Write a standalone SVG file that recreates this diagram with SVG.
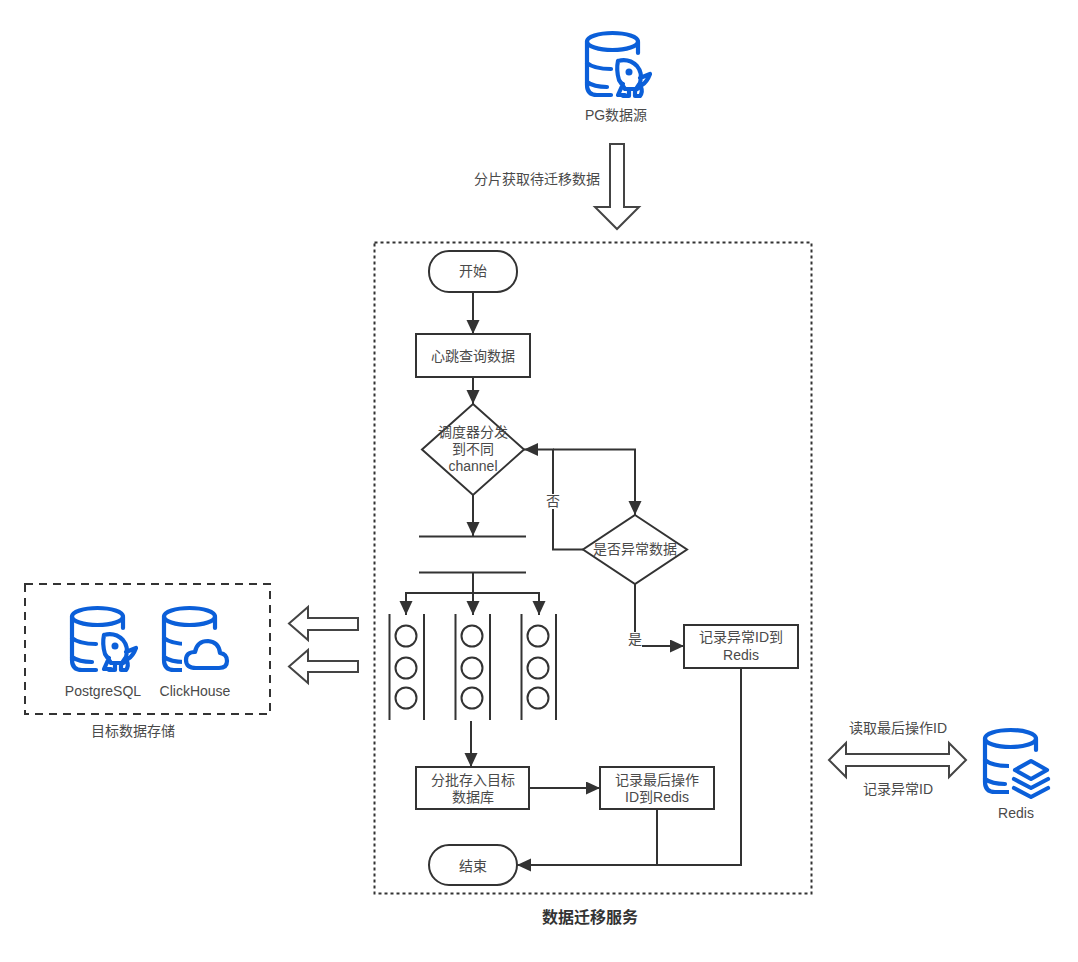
<svg xmlns="http://www.w3.org/2000/svg" width="1078" height="962" viewBox="0 0 1078 962">
<style>
text{font-family:"Liberation Sans","Noto Sans CJK SC",sans-serif;font-size:14px;fill:#4a4a4a;text-anchor:middle}
.s{fill:#fff;stroke:#333;stroke-width:2}
.l{fill:none;stroke:#333;stroke-width:2}
.t{fill:#fff;stroke:#444;stroke-width:2}
.i{fill:none;stroke:#0b5fd9;stroke-width:4.200;stroke-linecap:round;stroke-linejoin:round}
</style>
<defs>
<marker id="a" markerUnits="userSpaceOnUse" markerWidth="15" markerHeight="14" refX="14" refY="6.500" orient="auto"><path d="M0 0L14 6.500L0 13Z" fill="#333"/></marker>
<symbol id="db" overflow="visible">
<ellipse class="i" cx="27.500" cy="10.500" rx="25.500" ry="8.500"/>
<path class="i" d="M2 10.500V54Q2 64 12 64H26M53 10.500V22M2 32Q9 38 26 38M2 51Q9 56 22 56"/>
</symbol>
<symbol id="rocket" overflow="visible">
<path d="M-3 34 L22 36 L28 22 Q24 8 12 1 Q0 -1 -3 5 Q-7 13 -2 22 Z" fill="#fff"/>
<path class="i" d="M-1 3Q10 0 18 8Q24 15 21 25L17 31H6L0 22Q-3 12 -1 3M21 20L31 16Q28 24 23 27L18 31M4 26L-1 37H6M10 31V38H4M16 32V38H21Q24 34 22 29"/>
<circle cx="10" cy="14" r="3.500" fill="#0b5fd9"/>
</symbol>
<symbol id="cloud" overflow="visible">
<path d="M-4 -4H44V35H-4Z" fill="#fff"/>
<path class="i" d="M10 30Q0 30 0 22Q0 14 9 14Q11 3 22 3Q33 4 34 15Q41 16 41 23Q41 30 33 30Z"/>
</symbol>
<symbol id="stack" overflow="visible">
<path d="M-4 -3H40V41H-4Z" fill="#fff"/>
<path class="i" d="M18 2L34 11L18 20L2 11ZM1 20L18 29L35 20M1 29L18 38L35 29"/>
</symbol>
</defs>

<g id="pg-source">
<use href="#db" x="585" y="31"/><use href="#rocket" x="619" y="58"/>
<text x="616" y="120">PG数据源</text>
</g>

<g id="service-boundary">
<rect x="374.500" y="242.500" width="437" height="651" fill="none" stroke="#333" stroke-width="2" stroke-dasharray="3 3"/>
<text x="590" y="923" style="font-weight:700;font-size:16px;fill:#333">数据迁移服务</text>
</g>

<g id="target-storage">
<rect x="25" y="584" width="245" height="130" fill="none" stroke="#333" stroke-width="2" stroke-dasharray="8 6"/>
<use href="#db" x="70" y="606"/><use href="#rocket" x="105" y="632"/>
<use href="#db" x="162" y="606"/><use href="#cloud" x="186" y="638"/>
<text x="103" y="696">PostgreSQL</text>
<text x="195" y="696">ClickHouse</text>
<text x="133" y="736">目标数据存储</text>
</g>

<g id="redis">
<use href="#db" x="983" y="728"/><use href="#stack" x="1013" y="759"/>
<text x="1016" y="818">Redis</text>
</g>

<g id="hollow-arrows">
<path class="t" d="M610 144H624V207H639L617 229L595 207H610Z"/>
<path class="t" d="M358 618V630H308V640L289 623.500L308 607V618Z"/>
<path class="t" d="M358 661V672H308V683L289 666.500L308 650V661Z"/>
<path class="t" d="M846 743L829 760L846 777V766H949V777L966 760L949 743V754H846Z"/>
<text x="537" y="184">分片获取待迁移数据</text>
<text x="898" y="733">读取最后操作ID</text>
<text x="898" y="794">记录异常ID</text>
</g>

<g id="connectors">
<path class="l" marker-end="url(#a)" d="M473 292V334"/>
<path class="l" marker-end="url(#a)" d="M473 377V404"/>
<path class="l" marker-end="url(#a)" d="M473 495V536"/>
<path class="l" d="M473 572V593"/>
<path class="l" marker-end="url(#a)" d="M473 593V615"/>
<path class="l" marker-end="url(#a)" d="M473 593H406V615"/>
<path class="l" marker-end="url(#a)" d="M473 593H539V615"/>
<path class="l" marker-end="url(#a)" d="M583 549.500H553V449.500H524"/>
<path class="l" marker-end="url(#a)" d="M553 449.500H635V515"/>
<path class="l" marker-end="url(#a)" d="M635 584V646H684"/>
<path class="l" marker-end="url(#a)" d="M471 721V767"/>
<path class="l" marker-end="url(#a)" d="M530 788H600"/>
<path class="l" d="M657 809V865"/>
<path class="l" marker-end="url(#a)" d="M741 668V865H517"/>
<rect x="546" y="494" width="14" height="15" fill="#fff"/>
<text x="553" y="506">否</text>
<rect x="627" y="632" width="15" height="15" fill="#fff"/>
<text x="635" y="644">是</text>
</g>

<g id="start"><rect class="s" x="429" y="251" width="88" height="41" rx="20"/><text x="473" y="276">开始</text></g>
<g id="heartbeat"><rect class="s" x="416" y="334" width="114" height="43"/><text x="473" y="361">心跳查询数据</text></g>
<g id="dispatcher"><path class="s" d="M473 404L524 449.500L473 495L422 449.500Z"/>
<text x="473" y="437">调度器分发</text><text x="473" y="454">到不同</text><text x="473" y="471">channel</text></g>
<g id="bar"><path class="l" d="M419 536.500H526M419 572.500H526"/></g>
<g id="queue-1"><path class="l" d="M389.500 614V720M424 614V720"/><circle class="s" cx="406" cy="636" r="10.500"/><circle class="s" cx="406" cy="668" r="10.500"/><circle class="s" cx="406" cy="698" r="10.500"/></g>
<g id="queue-2"><path class="l" d="M455.500 614V720M490 614V720"/><circle class="s" cx="472" cy="636" r="10.500"/><circle class="s" cx="472" cy="668" r="10.500"/><circle class="s" cx="472" cy="698" r="10.500"/></g>
<g id="queue-3"><path class="l" d="M521.500 614V720M556 614V720"/><circle class="s" cx="538" cy="636" r="10.500"/><circle class="s" cx="538" cy="668" r="10.500"/><circle class="s" cx="538" cy="698" r="10.500"/></g>
<g id="check"><path class="s" d="M635 515L687 549.500L635 584L583 549.500Z"/><text x="635" y="554">是否异常数据</text></g>
<g id="record-error"><rect class="s" x="684" y="625" width="114" height="43"/><text x="741" y="642">记录异常ID到</text><text x="741" y="660">Redis</text></g>
<g id="batch-store"><rect class="s" x="416" y="767" width="113" height="42"/><text x="473" y="785">分批存入目标</text><text x="473" y="802">数据库</text></g>
<g id="record-last"><rect class="s" x="600" y="767" width="114" height="42"/><text x="657" y="785">记录最后操作</text><text x="657" y="802">ID到Redis</text></g>
<g id="end"><rect class="s" x="429" y="845" width="88" height="40" rx="20"/><text x="473" y="871">结束</text></g>
</svg>
